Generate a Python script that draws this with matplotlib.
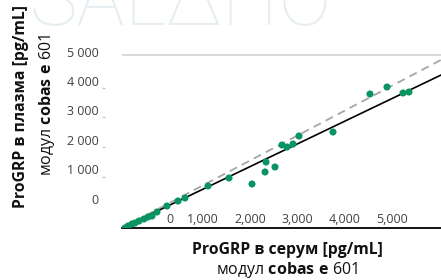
import matplotlib
matplotlib.use('Agg')
import matplotlib.pyplot as plt
import numpy as np

plt.rcParams['font.family'] = ['Open Sans', 'DejaVu Sans']
plt.rcParams['mathtext.fontset'] = 'custom'
plt.rcParams['mathtext.rm'] = 'Open Sans'
plt.rcParams['mathtext.bf'] = 'Open Sans:bold'

# --- Data (pg/mL) ---
serum  = [54, 108, 179, 233, 305, 394, 466, 538, 627, 806, 1004, 1129,
          1541, 1918, 2330, 2581, 2563, 2742, 2867, 2957, 3065, 3172,
          3781, 4444, 4749, 5036, 5143]
plasma = [0, 68, 136, 170, 238, 306, 374, 408, 544, 748, 918, 1020,
          1429, 1701, 1497, 2245, 1905, 2075, 2823, 2755, 2857, 3129,
          3265, 4558, 4796, 4592, 4626]
REG_SLOPE = 0.91

x_tick_labels = ['0', '1,000', '2,000', '3,000', '4,000', '5,000']
y_tick_labels = ['0', '1 000', '2 000', '3 000', '4 000', '5 000']

# label positions as drawn in the original (they are offset from the data scale)
x_tick_pos = [860, 1452, 2294, 3136, 3996, 4839]
y_tick_pos = [986, 2007, 2993, 4014, 5000, 5986]
y_dash_pos = [1735, 2755, 3776, 4762]

X_MAX, Y_MAX, Y_GRID = 5717, 6200, 5884

fig = plt.figure(figsize=(4.41, 2.80), dpi=100, facecolor='white')

# faint watermark
fig.text(181 / 441, 1 - 25 / 280, 'SALΔHO', ha='center', va='baseline',
         fontsize=58, color='#e6eef2', family=['Roboto', 'DejaVu Sans'],
         fontweight='light', zorder=0)

ax = fig.add_axes([122 / 441, 52 / 280, 319 / 441, Y_MAX * 0.0294 / 280])
ax.set_facecolor('none')
ax.set_xlim(0, X_MAX)
ax.set_ylim(0, Y_MAX)

ax.axhline(Y_GRID, color='#d9d9d9', linewidth=1.5, zorder=1)

xs = np.array([0, X_MAX])
ax.plot(xs, xs, color='#a6a6a6', linewidth=1.3, dashes=(4.5, 3), zorder=2)
ax.plot(xs, REG_SLOPE * xs, color='black', linewidth=1.2, zorder=3)
ax.scatter(serum, plasma, s=26, color='#0a9462', edgecolors='none', zorder=4)

for side in ['top', 'right', 'left']:
    ax.spines[side].set_visible(False)
ax.spines['bottom'].set_color('black')
ax.spines['bottom'].set_linewidth(1.3)
ax.spines['left'].set_position(('outward', 12))

ax.set_xticks(x_tick_pos, x_tick_labels)
ax.tick_params(axis='x', length=0, pad=-11, labelsize=9, labelcolor='#404040')
ax.set_yticks(y_tick_pos, y_tick_labels)
ax.set_yticks(y_dash_pos, minor=True)
ax.tick_params(axis='y', which='major', length=0, pad=5, labelsize=9,
               labelcolor='#404040')
ax.tick_params(axis='y', which='minor', length=2.5, width=0.8, color='#bfbfbf')

# axis titles
fig.text(287 / 441, 1 - 250 / 280, 'ProGRP в серум [pg/mL]', ha='center',
         va='center', fontsize=11.3, fontweight='bold', color='#111111')
fig.text(287 / 441, 1 - 270 / 280, r'модул $\mathbf{cobas\ e}$ 601',
         ha='center', va='center', fontsize=11.5, color='#111111')
fig.text(21 / 441, 1 - 106 / 280, 'ProGRP в плазма [pg/mL]', ha='center',
         va='center', rotation=90, fontsize=11.3, fontweight='bold',
         color='#111111')
fig.text(47 / 441, 1 - 105 / 280, r'модул $\mathbf{cobas\ e}$ 601',
         ha='center', va='center', rotation=90, fontsize=11.5, color='#111111')

plt.savefig('out.png', dpi=100, facecolor='white')
plt.close()
